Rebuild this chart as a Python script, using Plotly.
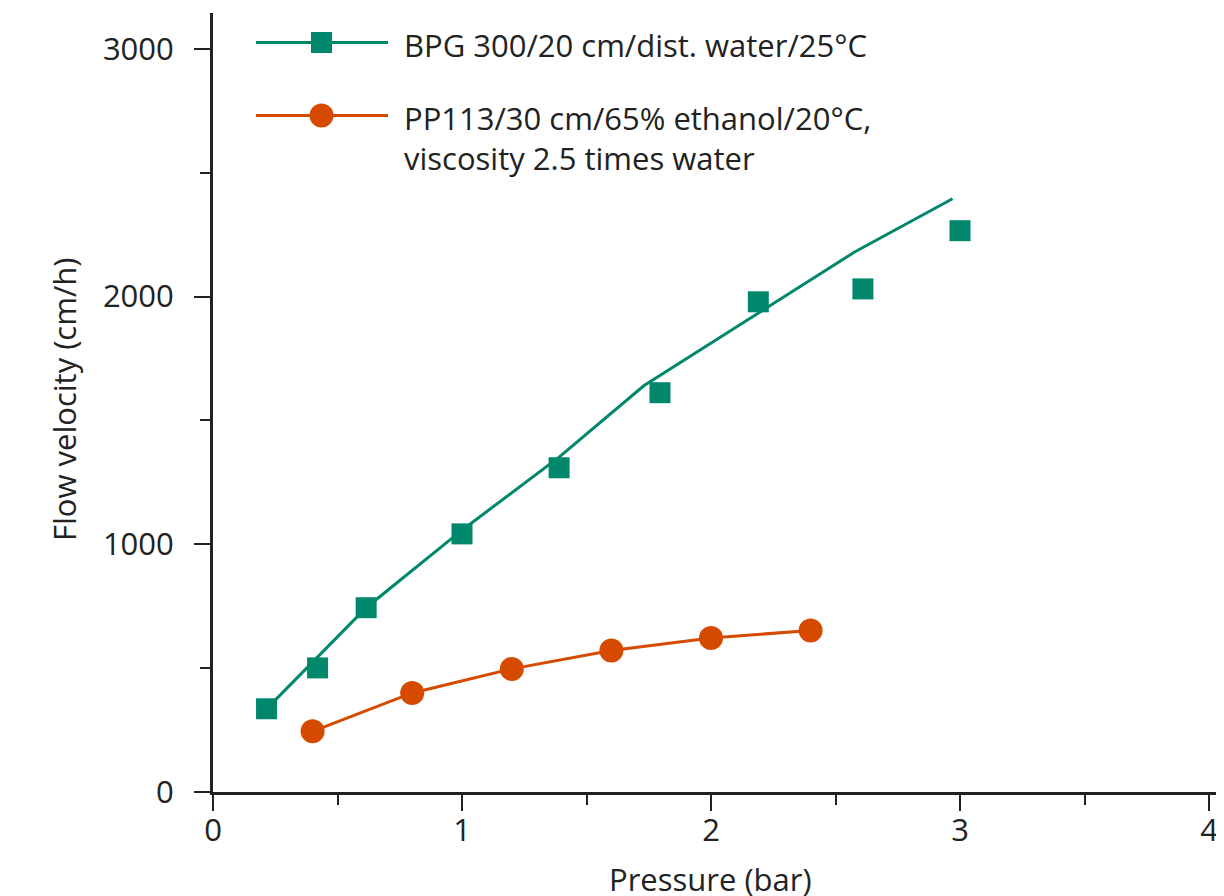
import plotly.graph_objects as go

bpg_pressure = [0.215, 0.42, 0.615, 1.0, 1.39, 1.795, 2.19, 2.61, 3.0]
bpg_velocity = [336, 501, 744, 1042, 1309, 1612, 1979, 2031, 2266]

# Fitted curve for BPG column
bpg_fit_pressure = [0.24, 0.615, 1.0, 1.39, 1.73, 2.575, 2.97]
bpg_fit_velocity = [361, 744, 1057, 1352, 1640, 2179, 2395]

pp_pressure = [0.4, 0.8, 1.2, 1.6, 2.0, 2.4]
pp_velocity = [245, 400, 497, 571, 622, 652]

x_ticks = [0, 1, 2, 3, 4]
y_ticks = [0, 1000, 2000, 3000]

bpg_label = 'BPG 300/20 cm/dist. water/25°C'
pp_label = 'PP113/30 cm/65% ethanol/20°C,<br>viscosity 2.5 times water'

GREEN = '#00876C'
ORANGE = '#D64A00'
INK = '#222222'
FONT = 'Open Sans'
FS = 31

# page body has an 8px margin, so the figure is sized/placed to compensate
OFF = 8
W, H = 1224 - OFF, 896 - OFF
L, R, T, B = 213 - OFF, 2, 13 - OFF, 104


# screen pixel -> paper helpers for the hand-drawn legend and titles
def px(x):
    return (x - OFF - L) / (W - L - R)


def py(y):
    return (H + OFF - B - y) / (H - T - B)


fig = go.Figure()

fig.add_trace(go.Scatter(x=bpg_fit_pressure, y=bpg_fit_velocity, mode='lines',
                         line=dict(color=GREEN, width=3), showlegend=False))
fig.add_trace(go.Scatter(x=bpg_pressure, y=bpg_velocity, mode='markers',
                         marker=dict(symbol='square', size=21, color=GREEN),
                         showlegend=False))
fig.add_trace(go.Scatter(x=pp_pressure, y=pp_velocity, mode='lines+markers',
                         line=dict(color=ORANGE, width=3),
                         marker=dict(symbol='circle', size=24, color=ORANGE),
                         showlegend=False))

axis_common = dict(showline=True, linewidth=3, linecolor=INK, showgrid=False,
                   zeroline=False, ticks='outside', tickwidth=2, tickcolor=INK,
                   ticklen=16, tickfont=dict(family=FONT, size=FS, color=INK))

fig.update_xaxes(range=[0, (W - L - R) / 249.0], tickvals=x_ticks,
                 minor=dict(dtick=0.5, ticks='outside', ticklen=10, tickwidth=2, tickcolor=INK),
                 ticklabelstandoff=-7, **axis_common)
fig.update_yaxes(range=[0, (H - T - B) / 0.2477], tickvals=y_ticks,
                 minor=dict(dtick=500, ticks='outside', ticklen=10, tickwidth=2, tickcolor=INK),
                 ticklabelstandoff=14, **axis_common)

# Hand-drawn legend (long line samples like the original)
shapes = [
    dict(type='line', xref='paper', yref='paper', x0=px(256), x1=px(388), y0=py(42.5), y1=py(42.5),
         line=dict(color=GREEN, width=3)),
    dict(type='rect', xref='paper', yref='paper', x0=px(311), x1=px(332), y0=py(53), y1=py(32),
         line=dict(width=0), fillcolor=GREEN),
    dict(type='line', xref='paper', yref='paper', x0=px(256), x1=px(388), y0=py(115.5), y1=py(115.5),
         line=dict(color=ORANGE, width=3)),
    dict(type='circle', xref='paper', yref='paper', x0=px(309.5), x1=px(333.5), y0=py(127.5), y1=py(103.5),
         line=dict(width=0), fillcolor=ORANGE),
]

annotations = [
    dict(text=bpg_label, xref='paper', yref='paper', x=px(402), y=py(45), xanchor='left',
         yanchor='middle', showarrow=False, align='left', font=dict(size=FS, color=INK)),
    dict(text=pp_label, xref='paper', yref='paper', x=px(402), y=py(138), xanchor='left',
         yanchor='middle', showarrow=False, align='left', font=dict(size=FS, color=INK)),
    dict(text='Flow velocity (cm/h)', xref='paper', yref='paper', x=px(64), y=py(400),
         textangle=-90, showarrow=False, xanchor='center', yanchor='middle',
         font=dict(size=FS, color=INK)),
    dict(text='Pressure (bar)', xref='paper', yref='paper', x=px(710), y=py(879),
         showarrow=False, xanchor='center', yanchor='middle', font=dict(size=FS, color=INK)),
]

fig.update_layout(width=W, height=H, margin=dict(l=L, r=R, t=T, b=B),
                  plot_bgcolor='white', paper_bgcolor='white',
                  font=dict(family=FONT, size=FS, color=INK),
                  shapes=shapes, annotations=annotations)

fig.write_html('out.html')
